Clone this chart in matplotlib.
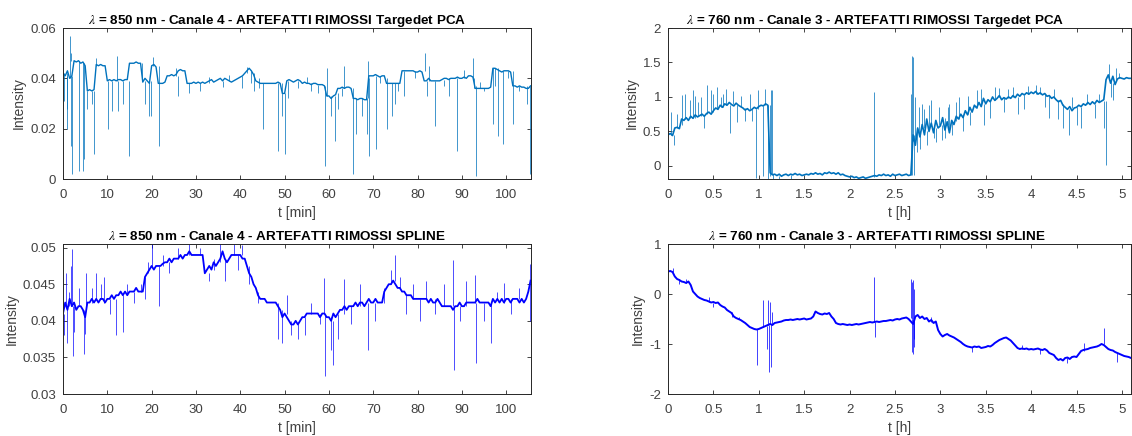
import numpy as np
import matplotlib
matplotlib.use("Agg")
import matplotlib.pyplot as plt

plt.rcParams['font.family'] = ['Liberation Sans', 'DejaVu Sans']
plt.rcParams['mathtext.fontset'] = 'stix'
plt.rcParams['axes.unicode_minus'] = False

# sampling steps of the hand-read traces
dt_min = 0.5      # minutes (850 nm panels)
dt_h = 0.025      # hours (760 nm panels)

# 850 nm - Targeted PCA, values in 1e-3
pca850 = [42, 41, 43, 40, 41, 47, 46.5, 47, 46, 46.5,
          45, 35, 35.5, 35, 35.5, 45.5, 45, 45.5, 45, 45,
          39, 39.5, 39, 39.5, 39, 39.5, 39.5, 39, 39.5, 39.5,
          46, 46, 46, 46.5, 46, 46, 38.5, 40, 39, 38,
          45, 45.5, 44.5, 38, 38, 38, 38.5, 41, 41, 41.5,
          41, 41.5, 43, 43.5, 43, 43, 38, 38, 38, 38.5,
          38, 38.5, 38, 38.5, 38, 38.5, 39, 39.5, 38.5, 39,
          39.5, 40, 39, 40, 39.5, 39, 38.5, 39, 39.5, 40,
          40.5, 41, 42, 43, 44, 43, 41.5, 39, 38.5, 38,
          38, 38, 38, 38, 38, 38, 38, 38.5, 38, 34,
          34, 39, 39.5, 39, 38.5, 39, 39.5, 39, 38, 38.5,
          38, 38, 37.5, 38, 38, 37.5, 37.5, 37.5, 37, 33,
          33, 32, 33, 33.5, 36, 36, 36.5, 36, 36.5, 36.5,
          36, 32, 32, 31.5, 32, 32, 31.5, 31.5, 41, 41,
          41, 41.5, 41, 40.5, 41, 41, 38, 38, 38, 38,
          38, 38, 38, 43, 43, 43, 43, 43, 43, 42.5,
          42.5, 43, 42.5, 39, 39, 40, 39, 39, 39, 39,
          39, 39.5, 40, 40, 39.5, 40, 40, 40, 40.5, 40,
          40, 40.5, 40, 41, 41, 40.5, 36, 36, 36, 36,
          36, 36, 36, 36.5, 44, 44, 43.5, 43, 42.5, 43,
          43, 43, 42.5, 37, 37, 36.5, 37, 36.5, 36.5, 36,
          36, 37]
# spikes: time [min], base, tip (1e-3)
pca850_spk_t = [0.2, 0.8, 1.0, 1.5, 1.8, 2.1, 1.9, 3.6, 4.4, 4.8, 5.4, 6.5, 7.1, 7.4,
                10.2, 11.0, 12.1, 12.4, 13.5, 14.8, 17.9, 18.6, 19.3, 19.8, 20.4, 21.7,
                26.0, 25.5, 28.5, 40.5, 43.0, 45.1, 48.4, 49.5, 50.2, 50.8, 53, 56,
                59.1, 59.5, 60.5, 61.3, 62, 63.5, 65.4, 66.0, 67.5, 68.5, 69.1, 68.9,
                70.6, 73.0, 74.3, 74.9, 77, 81.7, 82.2, 82.5, 84.0, 87, 88.8, 92.5,
                92.7, 93.3, 95, 97.1, 97.5, 98.2, 99.2, 101.6, 104.8, 105.3,
                31, 33, 36, 37.5, 41.5, 42.5, 44.2, 55, 57.5, 63, 71.5, 75.5,
                79.5, 86, 90.5, 94, 100.5, 103]
pca850_spk_base = [42, 41, 42, 40, 41, 41, 47, 47, 46, 46, 35, 35, 35, 45,
                   39, 39, 39, 39, 39, 39, 46, 39, 39, 39, 45, 45,
                   41, 41, 38, 41, 42, 38, 38, 38, 34, 39, 39, 38,
                   37, 33, 33, 33, 34, 36, 36, 32, 32, 32, 40, 32,
                   41, 40, 38, 38, 43, 43, 39, 39, 39, 40, 40, 40,
                   40, 37, 36, 44, 44, 44, 43, 43, 37, 37,
                   38, 38, 39, 39, 42, 43, 40, 38, 37.5, 36, 41, 38,
                   43, 39.5, 40, 36, 43, 37]
pca850_spk_tip = [31, 20, 28, 57, 13, 2, 50, 3, 3, 8, 28, 30, 10, 48,
                  20, 27, 49, 27, 30, 9, 39, 30, 25, 25, 48.5, 13,
                  33, 44, 34, 36, 35, 20, 11, 25, 10, 32, 36, 35,
                  5, 44, 25, 15, 28, 45, 2, 18, 25, 18, 9, 47,
                  12, 20, 25, 30, 33, 50, 33, 45, 21, 33, 11, 48,
                  36, 1, 35, 22, 37, 17, 14, 22, 30, 2,
                  35, 40.5, 36.5, 41.5, 44.5, 38, 36, 40.5, 34, 33, 38, 35,
                  40, 37, 43.5, 38.5, 40, 35]

# 760 nm - Targeted PCA
pca760 = [0.45, 0.47, 0.44, 0.55, 0.56, 0.54, 0.68, 0.66,
          0.70, 0.66, 0.72, 0.69, 0.74, 0.71, 0.73, 0.75,
          0.72, 0.76, 0.78, 0.75, 0.80, 0.84, 0.82, 0.88,
          0.85, 0.90, 0.88, 0.92, 0.89, 0.87, 0.91, 0.88,
          0.86, 0.84, 0.81, 0.83, 0.80, 0.82, 0.85, 0.83,
          0.86, 0.88, 0.87, 0.90, 0.88, -0.10, -0.13, -0.12,
          -0.14, -0.12, -0.15, -0.13, -0.12, -0.14, -0.12, -0.13,
          -0.11, -0.13, -0.12, -0.14, -0.13, -0.12, -0.13, -0.11,
          -0.12, -0.10, -0.12, -0.11, -0.13, -0.10, -0.11, -0.09,
          -0.11, -0.10, -0.12, -0.10, -0.13, -0.12, -0.14, -0.15,
          -0.16, -0.15, -0.17, -0.16, -0.18, -0.17, -0.16, -0.18,
          -0.17, -0.16, -0.15, -0.14, -0.15, -0.13, -0.14, -0.12,
          -0.14, -0.13, -0.15, -0.12, -0.14, -0.13, -0.12, -0.14,
          -0.13, -0.12, -0.14, -0.13, 0.45, 0.30, 0.55, 0.42,
          0.60, 0.45, 0.68, 0.50, 0.62, 0.48, 0.66, 0.55,
          0.58, 0.70, 0.52, 0.64, 0.48, 0.66, 0.60, 0.72,
          0.68, 0.75, 0.70, 0.80, 0.74, 0.85, 0.78, 0.88,
          0.84, 0.92, 0.86, 0.98, 0.90, 0.96, 0.93, 1.00,
          0.95, 0.98, 1.02, 0.96, 0.99, 0.97, 1.00, 0.98,
          1.02, 0.99, 1.04, 1.01, 1.05, 1.03, 1.06, 1.04,
          1.07, 1.05, 1.08, 1.04, 1.06, 1.03, 1.05, 1.01,
          1.02, 0.98, 1.00, 0.96, 0.93, 0.95, 0.88, 0.85,
          0.82, 0.86, 0.80, 0.84, 0.85, 0.88, 0.86, 0.90,
          0.88, 0.92, 0.89, 0.93, 0.90, 0.95, 0.92, 0.94,
          0.96, 1.25, 1.32, 1.20, 1.30, 1.18, 1.26, 1.28,
          1.27, 1.26, 1.28, 1.27, 1.27]
pca760_spk_t = [0.03, 0.07, 0.15, 0.24, 0.3, 0.36, 0.40, 0.43, 0.5, 0.54, 0.58, 0.64,
                0.68, 0.72, 0.76, 0.85, 0.97, 0.99, 1.05, 1.07, 1.10, 1.12, 1.13, 1.15,
                1.16, 1.22, 1.35, 2.27, 2.68, 2.69, 2.70, 2.71, 2.72, 2.74, 2.8, 2.85,
                2.9, 2.95, 3.05, 3.1, 3.2, 3.4, 3.48, 3.6, 3.75, 3.85, 4.05, 4.2,
                4.35, 4.42, 4.55, 4.8, 4.82, 4.86, 4.9, 4.93,
                2.76, 2.78, 2.82, 2.87, 2.93, 2.98, 3.02, 3.08, 3.13, 3.17, 3.25, 3.3,
                3.33, 3.45, 3.55, 3.65, 3.7, 3.8, 3.92, 3.97, 4.1, 4.15, 4.25, 4.3,
                4.45, 4.5, 4.62, 4.7, 4.75, 4.88, 4.97,
                0.1, 0.19, 0.27, 0.33, 0.47, 0.61, 0.8, 0.9, 0.93]
pca760_spk_base = [0.45, 0.45, 0.6, 0.7, 0.7, 0.73, 0.72, 0.75, 0.78, 0.84, 0.85, 0.88,
                   0.88, 0.9, 0.88, 0.84, 0.83, 0.83, 0.87, 0.88, 0.88, 0.88, -0.1, -0.12,
                   -0.12, -0.14, -0.13, -0.16, -0.13, -0.13, 0.4, 0.45, 0.3, 0.5, 0.6, 0.5,
                   0.62, 0.55, 0.7, 0.55, 0.68, 0.84, 0.9, 0.95, 0.98, 1.0, 1.05, 1.02,
                   0.9, 0.82, 0.86, 0.94, 0.94, 1.25, 1.2, 1.25,
                   0.45, 0.5, 0.55, 0.55, 0.6, 0.6, 0.6, 0.6, 0.65, 0.65, 0.72, 0.75,
                   0.78, 0.9, 0.95, 1.0, 0.98, 1.0, 1.03, 1.04, 1.05, 1.05, 0.98, 0.95,
                   0.84, 0.85, 0.9, 0.9, 0.93, 1.25, 1.27,
                   0.55, 0.68, 0.7, 0.72, 0.78, 0.86, 0.86, 0.82, 0.82]
pca760_spk_tip = [0.78, 0.30, 1.03, 0.95, 1.02, 1.0, 0.55, 1.17, 1.05, 1.15, 1.0, 1.12,
                  0.48, 1.08, 0.63, 0.65, -0.18, 1.1, -0.15, 1.12, -0.2, -0.15, 1.1, 1.1,
                  -0.2, -0.2, -0.2, 1.07, 1.05, 1.6, 1.58, -0.13, 1.0, 0.2, 0.9, 0.3,
                  0.95, 0.35, 0.4, 0.9, 1.0, 1.1, 0.6, 1.15, 1.12, 0.75, 1.18, 0.7,
                  0.55, 0.45, 0.55, 0.55, 0.02, 1.48, 0.95, 1.42,
                  0.85, 0.25, 0.82, 0.88, 0.4, 0.85, 0.38, 0.85, 0.45, 0.92, 0.5, 1.02,
                  0.6, 1.12, 0.7, 1.13, 0.78, 1.15, 0.82, 1.16, 1.15, 0.85, 1.12, 0.68,
                  1.0, 0.6, 1.05, 0.7, 1.05, 1.0, 1.35,
                  0.75, 1.05, 1.1, 0.92, 1.1, 1.05, 1.02, 1.05, 0.65]

# 850 nm - spline, values in 1e-3
spl850 = [41, 42.5, 41.5, 43, 42, 42.5, 41.5, 42, 42, 41.5,
          40.5, 42.5, 42.5, 43, 42.5, 43, 42.5, 43, 43, 42.5,
          43, 43, 43.5, 43, 43.5, 43.5, 44, 43.5, 44, 43.5,
          44, 44, 44, 44.5, 44, 44, 44, 46, 46.5, 47,
          47.5, 47, 47.5, 47.5, 47.5, 47.8, 48, 48, 48.5, 48,
          48.5, 48.5, 48.5, 49, 48.5, 49, 49, 49.5, 49, 49,
          49, 49, 49, 49, 46.5, 47, 47.5, 47, 48, 47.5,
          48, 48.5, 49.5, 48.5, 48, 48.5, 49, 49, 49, 49,
          49, 48.5, 48.5, 47.5, 46.5, 46, 45, 44.5, 43.5, 43,
          43, 43, 42.5, 42.5, 42.5, 42.5, 42.5, 42, 41.5, 40.5,
          41, 40.5, 40, 39.5, 39.5, 40, 39.5, 40, 40.5, 40.5,
          41, 41, 41, 41, 41, 41, 40.5, 41, 41, 40.5,
          40.5, 40, 41, 40.5, 41, 41.5, 41.5, 42, 41.5, 42,
          42, 42, 42.5, 42, 42.5, 42.5, 42, 42.5, 43, 42.5,
          42.5, 43, 42.5, 42.5, 42.5, 44, 44.5, 45, 45, 45.5,
          45, 44.5, 44.5, 44, 44, 43.5, 43.5, 43.5, 43, 43,
          43, 43, 43, 43, 43, 42.5, 43, 42.5, 42.5, 43,
          42.5, 42, 42, 42, 42, 42, 41.5, 42, 42, 42.5,
          42, 42, 42.5, 42.5, 42.5, 42.5, 42.5, 43, 42.5, 42.5,
          42.5, 42.5, 42.5, 42, 43, 42.5, 43, 42.5, 43, 42.5,
          43, 43, 42.5, 43, 43, 43, 42.5, 43, 42.5, 43,
          44, 45.5]
spl850_spk_t = [0.2, 0.6, 0.9, 1.3, 1.8, 2.1, 2.2, 2.5, 3.5, 4.8, 5.0, 5.3, 6.5, 7.5,
                8.5, 9.2, 10.5, 12.0, 13.5, 14.5, 16, 17.5, 18.5, 19.2, 20.0, 21.7,
                22.5, 24, 26, 28.5, 31, 33, 34, 35.5, 36.5, 38.5, 39.5, 40.5, 42, 44,
                48.5, 49.5, 50.5, 51.5, 53, 54.5, 56, 58, 59.0, 59.2, 60.5, 60.9, 62,
                63.5, 65, 67, 68.8, 70.5, 72.5, 74, 74.8, 76, 77.5, 79, 80.5, 82, 84,
                86, 88, 88.2, 89.5, 91, 93.0, 93.3, 95, 96.5, 98, 99.5, 101, 103,
                105.3, 105.4]
spl850_spk_base = [41, 42, 42, 42, 42, 42, 42, 42, 42, 41.5, 41, 42, 42.5, 43,
                   43, 42.5, 43, 43, 43.5, 43.5, 44, 44, 46, 46.5, 47.5, 47.5,
                   47.5, 48, 48.5, 49, 49, 46.5, 47, 48, 48.5, 49, 49, 49, 47.5, 44,
                   42.5, 41.5, 41, 40, 39.5, 40.5, 41, 41, 41, 41, 40.5, 40, 41,
                   41, 42, 42, 42.5, 42.5, 42.5, 45, 45.5, 44.5, 43.5, 43, 43, 43, 43,
                   42, 42, 42, 42, 42, 42.5, 42.5, 42.5, 42.5, 43, 42.5, 43, 43,
                   45, 45]
spl850_spk_tip = [38, 46.5, 37, 44, 47.5, 49.8, 35.2, 38.5, 44.5, 35.5, 38.2, 46.5, 44.5, 46.5,
                  45, 46, 41, 38, 38.5, 45, 42.5, 45, 43, 48, 50.5, 42,
                  49, 46.5, 50, 50.5, 50, 45.5, 48.5, 50.5, 45.5, 50.5, 47, 50.3, 45, 42.5,
                  37.5, 37, 43.5, 38, 37.5, 38, 42.5, 39.5, 45.8, 32.5, 36, 34, 37.5,
                  45.7, 39.5, 45, 36, 40, 44.5, 47, 49, 46, 41, 45, 40, 45.5, 41,
                  45, 48.3, 33.3, 40, 45.5, 46.3, 34.3, 40, 37, 44, 45.2, 41, 44.5,
                  47.8, 40]

# 760 nm - spline
spl760 = [0.45, 0.46, 0.44, 0.35, 0.30, 0.28, 0.25, 0.24,
          0.22, 0.25, 0.18, 0.05, 0.00, -0.05, -0.08, -0.10,
          -0.12, -0.13, -0.15, -0.17, -0.16, -0.18, -0.17, -0.22,
          -0.25, -0.27, -0.32, -0.35, -0.38, -0.45, -0.48, -0.50,
          -0.52, -0.55, -0.58, -0.62, -0.66, -0.68, -0.70, -0.71,
          -0.70, -0.68, -0.66, -0.64, -0.62, -0.60, -0.62, -0.58,
          -0.57, -0.56, -0.55, -0.53, -0.52, -0.52, -0.51, -0.52,
          -0.51, -0.50, -0.51, -0.50, -0.49, -0.51, -0.50, -0.49,
          -0.45, -0.35, -0.38, -0.40, -0.41, -0.39, -0.40, -0.38,
          -0.45, -0.50, -0.58, -0.60, -0.61, -0.60, -0.61, -0.62,
          -0.61, -0.62, -0.61, -0.60, -0.61, -0.60, -0.59, -0.58,
          -0.57, -0.56, -0.57, -0.56, -0.55, -0.56, -0.55, -0.54,
          -0.54, -0.53, -0.52, -0.53, -0.51, -0.50, -0.51, -0.49,
          -0.48, -0.47, -0.50, -0.55, -0.60, -0.45, -0.42, -0.48,
          -0.45, -0.50, -0.48, -0.55, -0.52, -0.58, -0.55, -0.72,
          -0.80, -0.85, -0.82, -0.80, -0.83, -0.85, -0.87, -0.90,
          -0.93, -0.96, -1.00, -1.03, -1.05, -1.06, -1.07, -1.05,
          -1.06, -1.05, -1.08, -1.07, -1.06, -1.04, -1.05, -1.02,
          -0.98, -0.95, -0.92, -0.90, -0.88, -0.87, -0.90, -0.93,
          -0.98, -1.03, -1.08, -1.10, -1.09, -1.10, -1.09, -1.11,
          -1.10, -1.11, -1.10, -1.09, -1.11, -1.12, -1.10, -1.13,
          -1.18, -1.20, -1.22, -1.28, -1.32, -1.30, -1.33, -1.28,
          -1.27, -1.30, -1.26, -1.25, -1.26, -1.20, -1.14, -1.12,
          -1.11, -1.10, -1.08, -1.07, -1.06, -1.05, -1.03, -1.00,
          -1.02, -1.06, -1.10, -1.12, -1.13, -1.16, -1.18, -1.20,
          -1.22, -1.24, -1.25, -1.26, -1.28]
spl760_spk_t = [0.05, 0.12, 0.2, 0.45, 0.5, 0.7, 0.78, 0.98, 1.05, 1.09, 1.10, 1.11,
                1.12, 1.13, 1.15, 2.27, 2.275, 2.68, 2.685, 2.69, 2.695, 2.70, 2.705,
                2.71, 2.715, 2.9, 3.35, 3.9, 4.1, 4.4, 4.58, 4.8, 4.95]
spl760_spk_base = [0.45, 0.3, 0.23, -0.15, -0.17, -0.35, -0.5, -0.7, -0.66, -0.63, -0.62, -0.62,
                   -0.6, -0.6, -0.6, -0.56, -0.56, -0.48, -0.5, -0.5, -0.5, -0.5, -0.5,
                   -0.5, -0.5, -0.55, -1.05, -1.1, -1.1, -1.28, -1.14, -1.0, -1.18]
spl760_spk_tip = [0.52, 0.2, 0.3, -0.05, -0.25, -0.45, -0.45, -1.42, -0.12, -1.1, -0.12, -1.55,
                  -0.15, -1.45, -0.35, 0.35, -0.85, 0.3, -1.15, 0.25, -1.2, 0.28, -1.05,
                  0.1, -0.9, -0.45, -1.15, -1.02, -1.2, -1.38, -0.97, -0.68, -1.35]

t_pca850 = np.arange(len(pca850)) * dt_min
t_spl850 = np.arange(len(spl850)) * dt_min
t_pca760 = np.arange(len(pca760)) * dt_h
t_spl760 = np.arange(len(spl760)) * dt_h

W, H = 1132, 436
fig = plt.figure(figsize=(W / 100, H / 100), dpi=100)

def pos(l, t, r, b):
    return [l / W, 1 - b / H, (r - l) / W, (b - t) / H]

ax1 = fig.add_axes(pos(63, 28, 531, 179))
ax2 = fig.add_axes(pos(668, 28, 1131, 179))
ax3 = fig.add_axes(pos(63, 244, 531, 394))
ax4 = fig.add_axes(pos(668, 244, 1131, 394))

c_pca = '#0072BD'
c_spl = '#0000FF'

ax1.plot(t_pca850, np.array(pca850) / 1000, color=c_pca, lw=1.0)
ax1.vlines(pca850_spk_t, np.array(pca850_spk_base) / 1000, np.array(pca850_spk_tip) / 1000,
           color=c_pca, lw=0.7, alpha=0.75)
ax2.plot(t_pca760, pca760, color=c_pca, lw=1.2)
ax2.vlines(pca760_spk_t, pca760_spk_base, pca760_spk_tip, color=c_pca, lw=0.7, alpha=0.75)
ax3.plot(t_spl850, np.array(spl850) / 1000, color=c_spl, lw=1.3)
ax3.vlines(spl850_spk_t, np.array(spl850_spk_base) / 1000, np.array(spl850_spk_tip) / 1000,
           color=c_spl, lw=0.7, alpha=0.7)
ax4.plot(t_spl760, spl760, color=c_spl, lw=1.4)
ax4.vlines(spl760_spk_t, spl760_spk_base, spl760_spk_tip, color=c_spl, lw=0.7, alpha=0.75)

ax1.set_xlim(0, 105.6)
ax1.set_ylim(0, 0.06)
ax1.set_yticks([0, 0.02, 0.04, 0.06])
ax1.set_yticklabels(['0', '0.02', '0.04', '0.06'])
ax3.set_xlim(0, 105.6)
ax3.set_ylim(0.03, 0.0505)
ax3.set_yticks([0.03, 0.035, 0.04, 0.045, 0.05])
ax3.set_yticklabels(['0.03', '0.035', '0.04', '0.045', '0.05'])
for ax in (ax1, ax3):
    ax.set_xticks(np.arange(0, 101, 10))
    ax.set_xlabel('t [min]')

ax2.set_xlim(0, 5.1)
ax2.set_ylim(-0.19, 2)
ax2.set_yticks([0, 0.5, 1, 1.5, 2])
ax2.set_yticklabels(['0', '0.5', '1', '1.5', '2'])
ax4.set_xlim(0, 5.1)
ax4.set_ylim(-2, 1)
ax4.set_yticks([-2, -1, 0, 1])
for ax in (ax2, ax4):
    ax.set_xticks(np.arange(0, 5.01, 0.5))
    ax.set_xticklabels(['0', '0.5', '1', '1.5', '2', '2.5', '3', '3.5', '4', '4.5', '5'])
    ax.set_xlabel('t [h]')

titles = [r'$\lambda$ = 850 nm - Canale 4 - ARTEFATTI RIMOSSI Targedet PCA',
          r'$\lambda$ = 760 nm - Canale 3 - ARTEFATTI RIMOSSI Targedet PCA',
          r'$\lambda$ = 850 nm - Canale 4 - ARTEFATTI RIMOSSI SPLINE',
          r'$\lambda$ = 760 nm - Canale 3 - ARTEFATTI RIMOSSI SPLINE']
# title centres sit a little left of the axes centre in the original
title_x = [0.457, 0.448, 0.456, 0.45]

for ax, ttl, tx in zip((ax1, ax2, ax3, ax4), titles, title_x):
    ax.set_title(ttl, fontsize=9.7, fontweight='bold', pad=3, x=tx)
    ax.set_ylabel('Intensity', fontsize=10, color='#404040', labelpad=3)
    ax.xaxis.label.set_fontsize(10)
    ax.xaxis.label.set_color('#404040')
    ax.xaxis.labelpad = 4
    ax.tick_params(direction='in', top=True, right=True, length=3, width=0.6,
                   labelsize=9.5, labelcolor='#404040', color='#262626')
    ax.tick_params(axis='x', pad=7)
    ax.tick_params(axis='y', pad=5)
    for s in ax.spines.values():
        s.set_linewidth(0.7)
        s.set_color('#262626')

fig.savefig('out.png', dpi=100)
